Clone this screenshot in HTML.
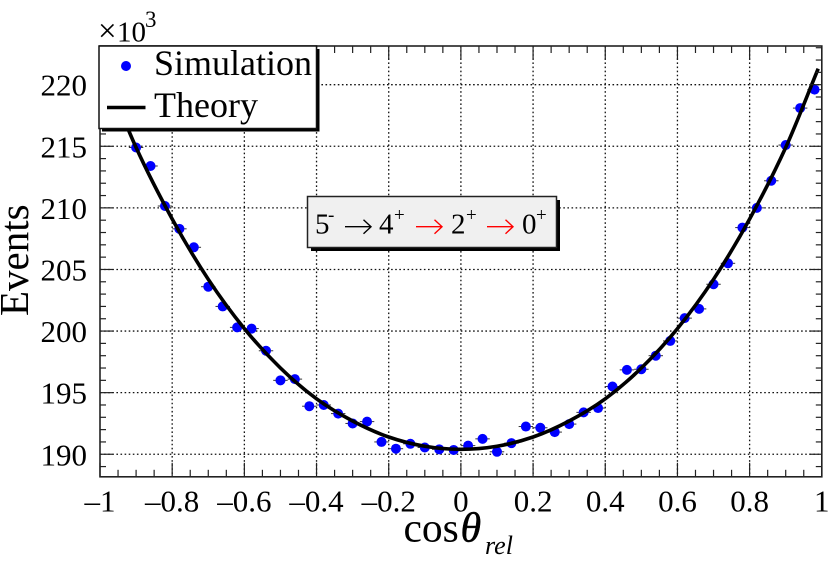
<!DOCTYPE html>
<html lang="en">
<head>
<meta charset="utf-8">
<title>Events vs cos theta rel</title>
<style>
html,body{margin:0;padding:0;background:#fff;}
svg{display:block;}
text{font-family:"Liberation Serif","DejaVu Serif",serif;fill:#000;}
</style>
</head>
<body>
<svg id="chart" width="830" height="561" viewBox="0 0 830 561" xmlns="http://www.w3.org/2000/svg">
  <rect x="0" y="0" width="830" height="561" fill="#fff"/>
  <g id="grid"></g>
  <g id="series"></g>
  <g id="axes"></g>

  <text x="98" y="41.5" font-size="33">×</text>
  <text x="117" y="41.5" font-size="29">10</text>
  <text x="145" y="27" font-size="23">3</text>

  <text transform="translate(28,316) rotate(-90)" font-size="41">Events</text>

  <g>
    <text x="403.5" y="541.7" font-size="41.5">cos</text>
    <text x="460.5" y="541.7" font-size="42" font-style="italic" stroke="#000" stroke-width="0.5">θ</text>
    <text x="485" y="554" font-size="26" font-style="italic">rel</text>
  </g>

  <g>
    <rect x="102" y="49" width="217.5" height="82.5" fill="#000"/>
    <rect x="99" y="46" width="217.5" height="82.5" fill="#fff" stroke="#111" stroke-width="1.5"/>
    <circle cx="126" cy="66" r="5" fill="#0000ff"/>
    <text x="154" y="75" font-size="36">Simulation</text>
    <line x1="107" y1="107.5" x2="145.5" y2="107.5" stroke="#000" stroke-width="3.5"/>
    <text x="154" y="117" font-size="36">Theory</text>
  </g>

  <g>
    <rect x="311" y="200" width="249" height="51" fill="#000"/>
    <rect x="307.5" y="196.5" width="249" height="51" fill="#f0f0f0" stroke="#222" stroke-width="1.5"/>
    <text x="315" y="233.5" font-size="29">5</text>
    <text x="328" y="221" font-size="19">-</text>
    <path d="M345 226.7H371M363.5 219.7L371 226.7L363.5 233.7" fill="none" stroke="#000" stroke-width="1.4"/>
    <text x="379" y="233.5" font-size="29">4</text>
    <text x="394" y="221" font-size="19">+</text>
    <path d="M416 226.7H442M434.5 219.7L442 226.7L434.5 233.7" fill="none" stroke="#ff0000" stroke-width="1.4"/>
    <text x="451" y="233.5" font-size="29">2</text>
    <text x="466" y="221" font-size="19">+</text>
    <path d="M487 226.7H513M505.5 219.7L513 226.7L505.5 233.7" fill="none" stroke="#ff0000" stroke-width="1.4"/>
    <text x="522" y="233.5" font-size="29">0</text>
    <text x="536" y="221" font-size="19">+</text>
  </g>
</svg>
<script>
var binCenters = [-0.98,-0.94,-0.90,-0.86,-0.82,-0.78,-0.74,-0.70,-0.66,-0.62,-0.58,-0.54,-0.50,-0.46,-0.42,-0.38,-0.34,-0.30,-0.26,-0.22,-0.18,-0.14,-0.10,-0.06,-0.02,0.02,0.06,0.10,0.14,0.18,0.22,0.26,0.30,0.34,0.38,0.42,0.46,0.50,0.54,0.58,0.62,0.66,0.70,0.74,0.78,0.82,0.86,0.90,0.94,0.98];
var simulationValues = [220.5,218.0,214.9,213.4,210.15,208.3,206.8,203.6,202.0,200.3,200.2,198.4,196.0,196.1,193.9,194.0,193.3,192.5,192.65,191.0,190.45,190.85,190.55,190.4,190.35,190.7,191.25,190.2,190.9,192.25,192.15,191.8,192.45,193.4,193.75,195.5,196.85,196.9,198.0,199.2,201.05,201.8,203.8,205.5,208.4,210.0,212.2,215.1,218.1,219.6];
var binHalfWidth = 0.02;
var theoryCos = [-0.99,-0.9,-0.8,-0.7,-0.6,-0.5,-0.4,-0.3,-0.2,-0.1,0,0.1,0.2,0.3,0.4,0.5,0.6,0.7,0.8,0.9,0.99];
var theoryValues = [221.3,214.9,209.1,204.2,200.2,197.0,194.5,192.7,191.4,190.65,190.4,190.65,191.4,192.7,194.5,197.0,200.2,204.2,209.1,214.9,221.3];
var xMajorTicks = [-1,-0.8,-0.6,-0.4,-0.2,0,0.2,0.4,0.6,0.8,1];
var xTickLabels = ["–1","–0.8","–0.6","–0.4","–0.2","0","0.2","0.4","0.6","0.8","1"];
var yMajorTicks = [190,195,200,205,210,215,220];
var yTickLabels = ["190","195","200","205","210","215","220"];
var xDomain = [-1,1];
var yDomain = [188.17,223.14];

var NS = "http://www.w3.org/2000/svg";
var plotLeft = 100, plotRight = 821.8, plotTop = 46, plotBottom = 476.8;

function xScale(v){ return plotLeft + (v - xDomain[0]) / (xDomain[1] - xDomain[0]) * (plotRight - plotLeft); }
function yScale(v){ return plotBottom - (v - yDomain[0]) / (yDomain[1] - yDomain[0]) * (plotBottom - plotTop); }

function make(parent, tag, attrs){
  var el = document.createElementNS(NS, tag);
  for (var k in attrs) el.setAttribute(k, attrs[k]);
  parent.appendChild(el);
  return el;
}

var gridG = document.getElementById("grid");
var seriesG = document.getElementById("series");
var axesG = document.getElementById("axes");

xMajorTicks.forEach(function(t){
  if (t === xDomain[0] || t === xDomain[1]) return;
  var el = make(gridG, "line", {x1:xScale(t), x2:xScale(t), y1:plotTop, y2:plotBottom, stroke:"#111", "stroke-width":1.3, "stroke-dasharray":"1.6 2.5"});
  
  
});
yMajorTicks.forEach(function(t){
  var el = make(gridG, "line", {x1:plotLeft, x2:plotRight, y1:yScale(t), y2:yScale(t), stroke:"#111", "stroke-width":1.3, "stroke-dasharray":"1.6 2.5"});
  
  
});

binCenters.forEach(function(c, i){
  var bar = make(seriesG, "line", {x1:xScale(c - binHalfWidth), x2:xScale(c + binHalfWidth), y1:yScale(simulationValues[i]), y2:yScale(simulationValues[i]), stroke:"#333", "stroke-width":1});
  
  
});
binCenters.forEach(function(c, i){
  var pt = make(seriesG, "circle", {cx:xScale(c), cy:yScale(simulationValues[i]), r:5, fill:"#0000ff"});
  
  
});

function splinePath(xs, ys){
  var n = xs.length, m = [], i;
  for (i = 0; i < n; i++){
    if (i === 0) m.push((ys[1] - ys[0]) / (xs[1] - xs[0]));
    else if (i === n - 1) m.push((ys[n-1] - ys[n-2]) / (xs[n-1] - xs[n-2]));
    else m.push((ys[i+1] - ys[i-1]) / (xs[i+1] - xs[i-1]));
  }
  var d = "M" + xs[0].toFixed(2) + " " + ys[0].toFixed(2);
  for (i = 0; i < n - 1; i++){
    var h = (xs[i+1] - xs[i]) / 3;
    d += "C" + (xs[i] + h).toFixed(2) + " " + (ys[i] + m[i] * h).toFixed(2) + " " +
         (xs[i+1] - h).toFixed(2) + " " + (ys[i+1] - m[i+1] * h).toFixed(2) + " " +
         xs[i+1].toFixed(2) + " " + ys[i+1].toFixed(2);
  }
  return d;
}
var curve = make(seriesG, "path", {d:splinePath(theoryCos.map(xScale), theoryValues.map(yScale)), fill:"none", stroke:"#000", "stroke-width":3.6});



var frame = make(axesG, "rect", {x:plotLeft, y:plotTop, width:plotRight - plotLeft, height:plotBottom - plotTop, fill:"none", stroke:"#222", "stroke-width":1.6});



var xMinorCount = Math.round((xDomain[1] - xDomain[0]) / 0.05);
for (var xi = 0; xi <= xMinorCount; xi++){
  var xv = xDomain[0] + xi * 0.05;
  var xMajor = xi % 4 === 0;
  var xLen = xMajor ? 14 : 7;
  var xBottomTick = make(axesG, "line", {x1:xScale(xv), x2:xScale(xv), y1:plotBottom, y2:plotBottom - xLen, stroke:"#222", "stroke-width":1.2});
  
  
  var xTopTick = make(axesG, "line", {x1:xScale(xv), x2:xScale(xv), y1:plotTop, y2:plotTop + xLen, stroke:"#222", "stroke-width":1.2});
  
  
}
for (var yv = 189; yv <= 223; yv++){
  var yLen = yv % 5 === 0 ? 12.5 : 6;
  var yLeftTick = make(axesG, "line", {x1:plotLeft, x2:plotLeft + yLen, y1:yScale(yv), y2:yScale(yv), stroke:"#222", "stroke-width":1.2});
  
  
  var yRightTick = make(axesG, "line", {x1:plotRight, x2:plotRight - yLen, y1:yScale(yv), y2:yScale(yv), stroke:"#222", "stroke-width":1.2});
  
  
}

xMajorTicks.forEach(function(t, i){
  var lab = make(axesG, "text", {x:xScale(t), y:511.5, "font-size":31, "text-anchor":"middle"});
  
  
  lab.textContent = xTickLabels[i];
});
yMajorTicks.forEach(function(t, i){
  var lab = make(axesG, "text", {x:87, y:yScale(t) + 11, "font-size":31, "text-anchor":"end"});
  
  
  lab.textContent = yTickLabels[i];
});
</script>
</body>
</html>
